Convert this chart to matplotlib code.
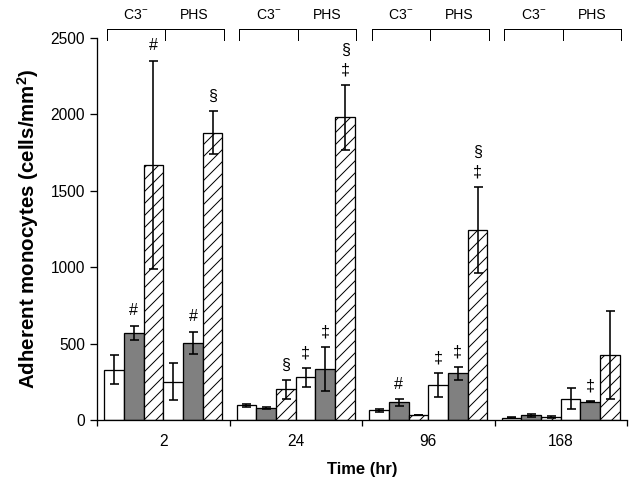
import matplotlib
matplotlib.use("Agg")
import matplotlib.pyplot as plt
import numpy as np

plt.rcParams['font.family'] = ['Liberation Sans', 'DejaVu Sans']
plt.rcParams['mathtext.fontset'] = 'custom'
plt.rcParams['mathtext.rm'] = 'Liberation Sans'
plt.rcParams['mathtext.bf'] = 'Liberation Sans:bold'
plt.rcParams['hatch.linewidth'] = 1.0

times = ["2", "24", "96", "168"]
group_labels = ["C3$^{-}$", "PHS"]

c3_white = [330, 95, 65, 15]
c3_white_err = [95, 10, 10, 5]
c3_gray = [570, 80, 115, 30]
c3_gray_err = [47, 8, 22, 12]
c3_hatched = [1670, 200, 30, 20]
c3_hatched_err = [682, 60, 0, 5]
phs_white = [250, 280, 230, 140]
phs_white_err = [120, 63, 80, 70]
phs_gray = [505, 335, 305, 120]
phs_gray_err = [72, 145, 40, 5]
phs_hatched = [1880, 1980, 1245, 425]
phs_hatched_err = [140, 213, 280, 290]

c3_white_sig = ["", "", "", ""]
c3_gray_sig = ["#", "", "#", ""]
c3_hatched_sig = ["#", "§", "", ""]
phs_white_sig = ["", "‡", "‡", ""]
phs_gray_sig = ["#", "‡", "‡", "‡"]
phs_hatched_sig = ["§", "§\n‡", "§\n‡", ""]

series = [
    (c3_white, c3_white_err, c3_white_sig, "white", ""),
    (c3_gray, c3_gray_err, c3_gray_sig, "#808080", ""),
    (c3_hatched, c3_hatched_err, c3_hatched_sig, "white", "//"),
    (phs_white, phs_white_err, phs_white_sig, "white", ""),
    (phs_gray, phs_gray_err, phs_gray_sig, "#808080", ""),
    (phs_hatched, phs_hatched_err, phs_hatched_sig, "white", "//"),
]

DPI = 72
fig = plt.figure(figsize=(636 / DPI, 487 / DPI), dpi=DPI)
ax = fig.add_axes([97 / 636, (487 - 420) / 487, (627 - 97) / 636, (420 - 38) / 487])

bw = 0.149
start = 0.053
gx = np.arange(len(times))
for i, (vals, errs, sigs, color, hatch) in enumerate(series):
    x = gx + start + bw * (i + 0.5)
    ax.bar(x, vals, width=bw, color=color, edgecolor="black", linewidth=1.3,
           hatch=hatch, zorder=2)
    ax.errorbar(x, vals, yerr=errs, fmt="none", ecolor="black", elinewidth=1.6,
                capsize=4.5, capthick=1.6, zorder=3)
    for xi, v, e, s in zip(x, vals, errs, sigs):
        if not s:
            continue
        for k, ch in enumerate(reversed(s.split("\n"))):
            ax.annotate(ch, (xi, v + e), xytext=(0, 15 + 20 * k),
                        textcoords="offset points", ha="center", va="center",
                        fontsize=16, zorder=4)

ax.set_xlim(0, len(times))
ax.set_ylim(0, 2500)
ax.set_yticks([0, 500, 1000, 1500, 2000, 2500])
ax.set_xticks(np.arange(len(times) + 1))
ax.set_xticklabels([])
ax.set_xticks(gx + 0.5, minor=True)
ax.set_xticklabels(times, minor=True)
ax.tick_params(axis="x", which="minor", length=0, pad=14, labelsize=15.5)
ax.tick_params(axis="x", which="major", length=6, width=1.3, direction="out")
ax.tick_params(axis="y", length=7, width=1.3, direction="out", labelsize=15.5, pad=5)
for side in ["top", "right"]:
    ax.spines[side].set_visible(False)
for side in ["left", "bottom"]:
    ax.spines[side].set_linewidth(1.3)

ax.set_ylabel("Adherent monocytes (cells/mm$\\mathbf{^2}$)", fontsize=20.5,
              fontweight="bold", labelpad=9)
ax.set_xlabel("Time (hr)", fontsize=16.5, fontweight="bold", labelpad=13)

# top brackets
y_line = 2500 + 9 / 0.153
y_tick = 2500 - 2 / 0.153
y_text = 2500 + 23 / 0.153
for g in gx:
    l, m, r = g + 0.075, g + 0.515, g + 0.955
    ax.plot([l, r], [y_line, y_line], color="black", lw=1.0, clip_on=False)
    for xx in (l, m, r):
        ax.plot([xx, xx], [y_line, y_tick], color="black", lw=1.0, clip_on=False)
    ax.text((l + m) / 2, y_text, group_labels[0], ha="center", va="center", fontsize=14)
    ax.text((m + r) / 2, y_text, group_labels[1], ha="center", va="center", fontsize=14)

fig.savefig("out.png", dpi=DPI)
